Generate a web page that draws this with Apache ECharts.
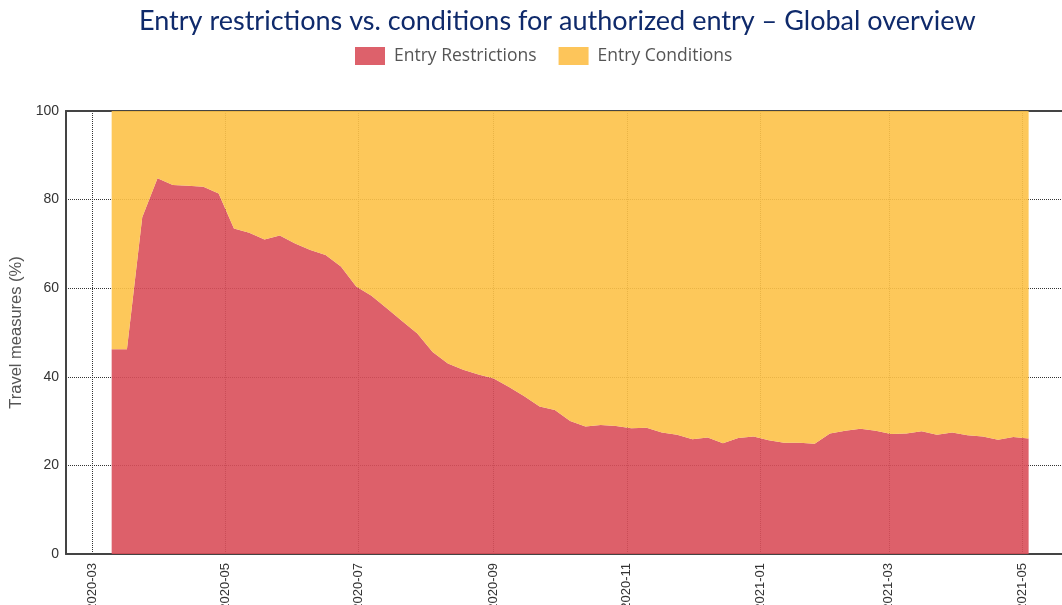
<!DOCTYPE html>
<html>
<head>
<meta charset="utf-8">
<style>
  html, body { margin: 0; padding: 0; background: #fff; }
  #chart { width: 1062px; height: 605px; }
</style>
<script src="https://cdn.jsdelivr.net/npm/echarts@6/dist/echarts.min.js"></script>
</head>
<body>
<div id="chart"></div>
<script>
// weekly observations
var weeks = [
  '2020-03-10', '2020-03-17', '2020-03-24', '2020-03-31', '2020-04-07', '2020-04-14', '2020-04-21', '2020-04-28',
  '2020-05-05', '2020-05-12', '2020-05-19', '2020-05-26', '2020-06-02', '2020-06-09', '2020-06-16', '2020-06-23',
  '2020-06-30', '2020-07-07', '2020-07-14', '2020-07-21', '2020-07-28', '2020-08-04', '2020-08-11', '2020-08-18',
  '2020-08-25', '2020-09-01', '2020-09-08', '2020-09-15', '2020-09-22', '2020-09-29', '2020-10-06', '2020-10-13',
  '2020-10-20', '2020-10-27', '2020-11-03', '2020-11-10', '2020-11-17', '2020-11-24', '2020-12-01', '2020-12-08',
  '2020-12-15', '2020-12-22', '2020-12-29', '2021-01-05', '2021-01-12', '2021-01-19', '2021-01-26', '2021-02-02',
  '2021-02-09', '2021-02-16', '2021-02-23', '2021-03-02', '2021-03-09', '2021-03-16', '2021-03-23', '2021-03-30',
  '2021-04-06', '2021-04-13', '2021-04-20', '2021-04-27', '2021-05-04'
];

var restrictions = [
  46.2, 46.2, 76.0, 84.8, 83.3, 83.1, 82.9, 81.4,
  73.5, 72.5, 71.0, 71.9, 70.1, 68.6, 67.5, 64.9,
  60.4, 58.3, 55.5, 52.6, 49.8, 45.6, 43.0, 41.6,
  40.5, 39.6, 37.7, 35.6, 33.3, 32.5, 30.0, 28.8,
  29.1, 28.9, 28.4, 28.5, 27.4, 26.9, 25.9, 26.3,
  25.0, 26.2, 26.5, 25.7, 25.1, 25.1, 24.9, 27.2,
  27.8, 28.3, 27.8, 27.1, 27.2, 27.7, 26.9, 27.4,
  26.8, 26.5, 25.8, 26.4, 26.1
];

var conditions = [
  53.8, 53.8, 24.0, 15.2, 16.7, 16.9, 17.1, 18.6,
  26.5, 27.5, 29.0, 28.1, 29.9, 31.4, 32.5, 35.1,
  39.6, 41.7, 44.5, 47.4, 50.2, 54.4, 57.0, 58.4,
  59.5, 60.4, 62.3, 64.4, 66.7, 67.5, 70.0, 71.2,
  70.9, 71.1, 71.6, 71.5, 72.6, 73.1, 74.1, 73.7,
  75.0, 73.8, 73.5, 74.3, 74.9, 74.9, 75.1, 72.8,
  72.2, 71.7, 72.2, 72.9, 72.8, 72.3, 73.1, 72.6,
  73.2, 73.5, 74.2, 73.6, 73.9
];

var yTicks = [0, 20, 40, 60, 80, 100];

function ts(d) { return Date.parse(d + 'T00:00:00Z'); }
function pairs(vals) {
  return weeks.map(function (d, i) { return [ts(d), vals[i]]; });
}
function monthLabel(v) {
  var d = new Date(v);
  var m = d.getMonth() + 1;
  return d.getFullYear() + '-' + (m < 10 ? '0' + m : m);
}

var chart = echarts.init(document.getElementById('chart'));
var xMin = Date.parse('2020-02-18T02:00:00Z');
var xMax = Date.parse('2021-05-19T07:00:00Z');
var gridLine = { type: 'dotted', color: '#333', width: 1 };
var frame = { show: true, lineStyle: { color: '#444', width: 2 } };

var option = {
  animation: false,
  title: {
    text: 'Entry restrictions vs. conditions for authorized entry \u2013 Global overview',
    left: 134,
    top: 3,
    textStyle: { fontFamily: 'Lato', fontWeight: 'normal', fontSize: 27, color: '#0f2a6b' }
  },
  legend: {
    top: 42,
    left: 350,
    icon: 'rect',
    itemWidth: 30,
    itemHeight: 18,
    itemGap: 22,
    textStyle: { fontFamily: 'Open Sans', fontSize: 17.5, color: '#555', padding: [0, 0, 0, 4] },
    data: ['Entry Restrictions', 'Entry Conditions']
  },
  grid: { left: 66, right: 0, top: 111, bottom: 51, outerBoundsMode: 'none' },
  xAxis: [
    {
      type: 'time',
      min: xMin,
      max: xMax,
      splitNumber: 6,
      axisLine: frame,
      axisTick: { show: false },
      splitLine: { show: true, lineStyle: gridLine },
      axisLabel: {
        rotate: 90,
        margin: 9,
        fontFamily: 'Liberation Sans',
        fontSize: 13,
        fontWeight: 'normal',
        color: '#333',
        showMinLabel: false,
        showMaxLabel: false,
        formatter: monthLabel
      }
    },
    {
      // top edge of the frame
      type: 'time',
      position: 'top',
      min: xMin,
      max: xMax,
      axisLine: frame,
      axisTick: { show: false },
      axisLabel: { show: false },
      splitLine: { show: false }
    }
  ],
  yAxis: {
    type: 'value',
    min: yTicks[0],
    max: yTicks[yTicks.length - 1],
    interval: 20,
    name: 'Travel measures (%)',
    nameLocation: 'middle',
    nameGap: 36,
    nameTextStyle: { fontFamily: 'Liberation Sans', fontSize: 16.5, color: '#555' },
    axisLine: frame,
    axisTick: { show: false },
    axisLabel: { margin: 7, fontFamily: 'Liberation Sans', fontSize: 14, color: '#333' },
    splitLine: { show: true, lineStyle: gridLine }
  },
  series: [
    {
      name: 'Entry Restrictions',
      type: 'line',
      stack: 'share',
      symbol: 'none',
      lineStyle: { width: 0 },
      itemStyle: { color: '#dd616b' },
      areaStyle: { color: '#d94f5a', opacity: 0.9 },
      data: pairs(restrictions)
    },
    {
      name: 'Entry Conditions',
      type: 'line',
      stack: 'share',
      symbol: 'none',
      lineStyle: { width: 0 },
      itemStyle: { color: '#fdc55a' },
      areaStyle: { color: '#fdc248', opacity: 0.9 },
      data: pairs(conditions)
    }
  ]
};

chart.setOption(option);
</script>
</body>
</html>
